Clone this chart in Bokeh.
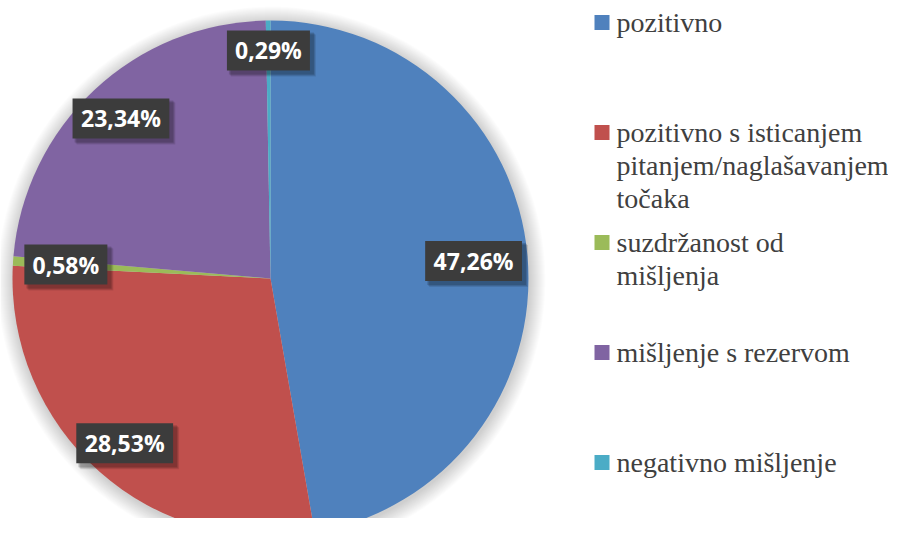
import math
from bokeh.plotting import figure
from bokeh.models import Range1d
from bokeh.core.properties import value
from bokeh.embed import file_html
from bokeh.resources import INLINE

# ---- data ----
categories = ["pozitivno",
              "pozitivno s isticanjem pitanjem/naglašavanjem točaka",
              "suzdržanost od mišljenja",
              "mišljenje s rezervom",
              "negativno mišljenje"]
legend_lines = [["pozitivno"],
                ["pozitivno s isticanjem", "pitanjem/naglašavanjem", "točaka"],
                ["suzdržanost od", "mišljenja"],
                ["mišljenje s rezervom"],
                ["negativno mišljenje"]]
percent = [47.26, 28.53, 0.58, 23.34, 0.29]
colors = ["#4F81BD", "#C0504D", "#9BBB59", "#8064A2", "#4BACC6"]

# ---- layout (pixel coordinates) ----
W, H = 888, 518
def Y(fy):
    return H - fy

cx, cy = 270, Y(278)
R = 258
label_rfrac = [0.79, 0.853, 0.795, 0.849, 0.884]

p = figure(width=W, height=H, x_range=Range1d(0, W), y_range=Range1d(0, H),
           output_backend="svg", toolbar_location=None, min_border=0)
p.axis.visible = False
p.grid.visible = False
p.outline_line_color = None
p.background_fill_color = "white"

# soft shadow around pie
for i in range(16):
    p.circle(x=[cx + 1], y=[cy - 2], radius=R + 16 - i, fill_color="black",
             fill_alpha=0.012, line_color=None)

total = sum(percent)
start = math.pi / 2
starts, ends, mids = [], [], []
for v in percent:
    a = v / total * 2 * math.pi
    starts.append(start - a)
    ends.append(start)
    mids.append(start - a / 2)
    start -= a

p.wedge(x=[cx] * 5, y=[cy] * 5, radius=R, start_angle=starts, end_angle=ends,
        fill_color=colors, line_color=None)

# data labels
labels = [f"{v:.2f}".replace(".", ",") + "%" for v in percent]
lx = [cx + R * f * math.cos(m) for f, m in zip(label_rfrac, mids)]
ly = [cy + R * f * math.sin(m) for f, m in zip(label_rfrac, mids)]
bw = [14 + 13.8 * len(t) for t in labels]
for k, (dx, dy, al) in enumerate([(5, -5, 0.10), (4, -4, 0.12), (3, -3, 0.15)]):
    p.rect(x=[x + dx for x in lx], y=[y + dy for y in ly], width=[w + 2 for w in bw],
           height=42, width_units="screen", height_units="screen",
           fill_color="black", fill_alpha=al, line_color=None)
p.rect(x=lx, y=ly, width=bw, height=40, width_units="screen", height_units="screen",
       fill_color="#3C3C3C", line_color=None)
p.text(x=lx, y=ly, text=labels, text_align="center", text_baseline="middle",
       text_color="white", text_font=value("Open Sans"), text_font_style="bold",
       text_font_size="23px")

# legend
entry_y = [22, 132, 242, 352, 462]
sq_x = 601.5
txt_x = 616
p.rect(x=[sq_x] * 5, y=[Y(e) for e in entry_y], width=15, height=15,
       width_units="screen", height_units="screen", fill_color=colors, line_color=None)
tx, ty, tt = [], [], []
for e, lines in zip(entry_y, legend_lines):
    for j, t in enumerate(lines):
        tx.append(txt_x)
        ty.append(Y(e + j * 33))
        tt.append(t)
p.text(x=tx, y=ty, text=tt, text_align="left", text_baseline="middle",
       text_color="#404040", text_font=value("Liberation Serif"),
       text_font_size="28px")

open("out.html", "w").write(file_html(p, INLINE))
